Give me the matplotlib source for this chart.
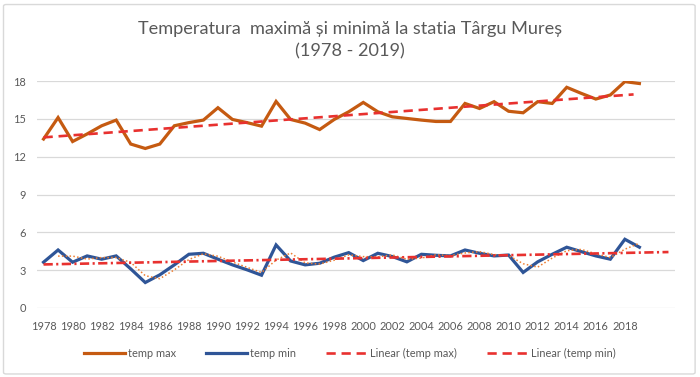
import numpy as np
import pandas as pd
import matplotlib
matplotlib.use("Agg")
import matplotlib.pyplot as plt
from matplotlib.lines import Line2D
from matplotlib.patches import FancyBboxPatch

plt.rcParams['font.family'] = ['Lato', 'DejaVu Sans']

years = list(range(1978, 2020))
temp_max = [13.4, 15.1, 13.2, 13.8, 14.45, 14.9, 13.0, 12.65, 13.0, 14.45,
            14.7, 14.9, 15.88, 14.95, 14.7, 14.42, 16.38, 14.95, 14.66, 14.15,
            14.95, 15.56, 16.3, 15.56, 15.16, 15.03, 14.9, 14.79, 14.79, 16.22,
            15.82, 16.36, 15.6, 15.48, 16.36, 16.22, 17.5, 17.02, 16.57, 16.89,
            17.95, 17.8]
temp_min = [3.63, 4.6, 3.63, 4.13, 3.87, 4.13, 3.1, 2.02, 2.63, 3.42,
            4.26, 4.34, 3.87, 3.42, 3.03, 2.6, 5.0, 3.73, 3.42, 3.55,
            4.03, 4.39, 3.76, 4.34, 4.08, 3.66, 4.26, 4.18, 4.13, 4.6,
            4.34, 4.13, 4.2, 2.82, 3.66, 4.26, 4.82, 4.47, 4.13, 3.87,
            5.45, 4.82]
yticks = [0, 3, 6, 9, 12, 15, 18]
xticks = list(range(1978, 2019, 2))
title = "Temperatura  maximă și minimă la statia Târgu Mureș\n(1978 - 2019)"
labels = ["temp max", "temp min", "Linear (temp max)", "Linear (temp min)"]

c_max = '#C55A11'
c_min = '#2F5597'
c_trend = '#E8312F'
c_ma = '#ED7D31'
c_text = '#595959'

fig = plt.figure(figsize=(7.0, 3.77), dpi=100)
fig.patch.set_facecolor('white')
border = FancyBboxPatch((0.005, 0.008), 0.988, 0.980, boxstyle="round,pad=0,rounding_size=0.004",
                        transform=fig.transFigure, facecolor='none', edgecolor='#D9D9D9', lw=1.0)
fig.patches.append(border)

ax = fig.add_axes([37/700, 1-308/377, (675-37)/700, (308-81)/377])
x = np.array(years, dtype=float)
ymax = np.array(temp_max)
ymin = np.array(temp_min)

ax.plot(x, ymax, color=c_max, lw=2.3, solid_joinstyle='miter', zorder=3)
ax.plot(x, ymin, color=c_min, lw=2.3, solid_joinstyle='miter', zorder=3)

# moving average (2 periods) of temp min
ma = pd.Series(ymin).rolling(2).mean().values
ax.plot(x, ma, color=c_ma, lw=1.1, ls=(0, (1, 1.5)), zorder=4)

# linear trends
pmax = np.polyfit(x, ymax, 1)
xt1 = np.array([1978, 2018.6])
ax.plot(xt1, np.polyval(pmax, xt1), color=c_trend, lw=1.9, ls=(0, (3.5, 2.2)), zorder=5)
pmin = np.polyfit(x, ymin, 1)
xt2 = np.array([1978, 2021])
ax.plot(xt2, np.polyval(pmin, xt2), color=c_trend, lw=1.9, ls=(0, (3.5, 1.3, 0.8, 1.3)), zorder=5)

ax.set_xlim(1977.55, 2021.45)
ax.set_ylim(0, 18)
ax.set_yticks(yticks)
ax.set_xticks(xticks)
ax.set_xticklabels([str(t) for t in xticks])
ax.grid(axis='y', color='#D9D9D9', lw=0.9)
ax.set_axisbelow(True)
for s in ax.spines.values():
    s.set_visible(False)
ax.tick_params(axis='both', length=0, labelsize=7.9, colors=c_text)
ax.tick_params(axis='y', pad=8)
ax.tick_params(axis='x', pad=9)

fig.text(0.5, 1-40.5/377, title, ha='center', va='center', fontsize=13.1,
         color=c_text, linespacing=1.5)

handles = [Line2D([], [], color=c_max, lw=2.3),
           Line2D([], [], color=c_min, lw=2.3),
           Line2D([], [], color=c_trend, lw=1.9, ls=(0, (3.5, 2.2))),
           Line2D([], [], color=c_trend, lw=1.9, ls=(0, (3.5, 2.2)))]
leg = fig.legend(handles, labels, loc='center', bbox_to_anchor=(0.5, 1-353/377), ncol=4,
                 frameon=False, fontsize=7.9, handlelength=3.7, handletextpad=0.3,
                 columnspacing=2.75, labelcolor=c_text)

fig.savefig('out.png', dpi=100, facecolor='white')
